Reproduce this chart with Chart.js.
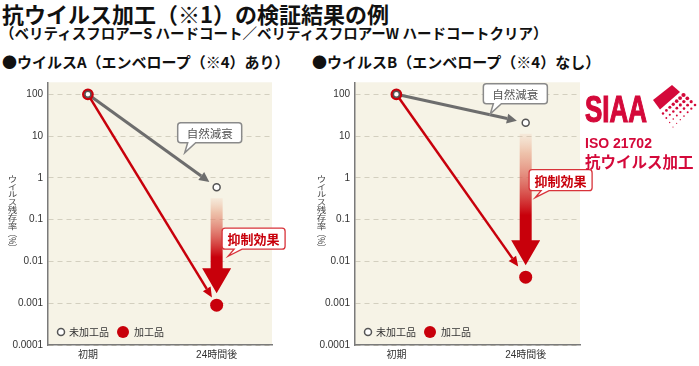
<!DOCTYPE html>
<html lang="ja">
<head>
<meta charset="utf-8">
<script src="https://cdn.jsdelivr.net/npm/chart.js@4.4.0/dist/chart.umd.min.js"></script>
<style>
  body { margin: 0; width: 699px; height: 366px; background: #fff; position: relative; overflow: hidden;
         font-family: "Noto Sans CJK JP", sans-serif; color: #111; }
  .abs { position: absolute; white-space: nowrap; line-height: 1; }
  .t1 { left: 2px; top: 2px; font-size: 22px; font-weight: 700; }
  .t2 { left: 0px; top: 26px; font-size: 14.5px; font-weight: 700; }
  .t3 { top: 54px; font-size: 15px; font-weight: 700; }
  .ytitle { writing-mode: vertical-rl; font-size: 9.5px; color: #444; top: 175px;
            transform: scaleY(0.82); transform-origin: top; }
  canvas { position: absolute; top: 75px; }
  .siaa { color: #d4093a; font-weight: 700; }
</style>
</head>
<body>
<div class="abs t1">抗ウイルス加工（※1）の検証結果の例</div>
<div class="abs t2">（ベリティスフロアーS ハードコート／ベリティスフロアーW ハードコートクリア）</div>
<div class="abs t3" style="left:2px">●ウイルスA（エンベロープ（※4）あり）</div>
<div class="abs t3" style="left:312px">●ウイルスB（エンベロープ（※4）なし）</div>

<canvas id="chartA" width="290" height="291" style="left:0px"></canvas>
<canvas id="chartB" width="300" height="291" style="left:307px"></canvas>
<div class="abs ytitle" style="left:7px">ウイルス残存率（%）</div>
<div class="abs ytitle" style="left:316px">ウイルス残存率（%）</div>

<div class="abs siaa" style="left:585px; top:92px; font-family:'Liberation Sans'; font-size:36px; transform:scaleX(0.72); transform-origin:left; -webkit-text-stroke:1.2px #d4093a;">SIAA</div>
<svg id="siaaMark" class="abs" style="left:648px; top:82px" width="50" height="50"></svg>
<div class="abs siaa" style="left:585px; top:136px; font-family:'Liberation Sans'; font-size:14px;">ISO 21702</div>
<div class="abs siaa" style="left:585px; top:154px; font-size:15.5px;">抗ウイルス加工</div>

<script>
// data
const categories = ['初期', '24時間後'];
const yTickValues = [0.0001, 0.001, 0.01, 0.1, 1, 10, 100];
const yTickLabels = ['0.0001', '0.001', '0.01', '0.1', '1', '10', '100'];
const seriesNames = ['未加工品', '加工品'];
const virusAUntreated = [100, 0.6];
const virusATreated = [100, 0.0009];
const virusBUntreated = [100, 21];
const virusBTreated = [100, 0.0042];
const noteDecay = '自然減衰';
const noteEffect = '抑制効果';

const FONT = '"Liberation Sans", "Noto Sans CJK JP", sans-serif';
const RED = '#c8000b';
const GRAY_LINE = '#6d6d6d';
const GRAY_MARK = '#555';
const BG = '#f6f3e6';
const GRID = '#d3cfbf';
const AXIS = '#7a7a7a';

function arrowLine(ctx, x1, y1, x2, y2, gap, color, width, headLen, headW) {
    const ang = Math.atan2(y2 - y1, x2 - x1);
    const tx = x2 - gap * Math.cos(ang), ty = y2 - gap * Math.sin(ang);
    const bx = tx - headLen * Math.cos(ang), by = ty - headLen * Math.sin(ang);
    ctx.strokeStyle = color;
    ctx.lineWidth = width;
    ctx.beginPath();
    ctx.moveTo(x1, y1);
    ctx.lineTo(bx, by);
    ctx.stroke();
    ctx.fillStyle = color;
    ctx.beginPath();
    ctx.moveTo(tx, ty);
    ctx.lineTo(bx + headW * Math.sin(ang), by - headW * Math.cos(ang));
    ctx.lineTo(bx - headW * Math.sin(ang), by + headW * Math.cos(ang));
    ctx.closePath();
    ctx.fill();
}

// rounded box with a small tail on the bottom-left
function callout(ctx, cx, cy, text, o) {
    ctx.font = o.font;
    const w = ctx.measureText(text).width + o.padX * 2;
    const h = o.h, r = 3;
    const l = cx - w / 2, t = cy - h / 2, rt = l + w, b = t + h;
    ctx.beginPath();
    ctx.moveTo(l + r, t);
    ctx.lineTo(rt - r, t);
    ctx.quadraticCurveTo(rt, t, rt, t + r);
    ctx.lineTo(rt, b - r);
    ctx.quadraticCurveTo(rt, b, rt - r, b);
    ctx.lineTo(l + o.tail[1], b);
    ctx.lineTo(l + o.tail[2], b + o.tail[3]);
    ctx.lineTo(l + o.tail[0], b);
    ctx.lineTo(l + r, b);
    ctx.quadraticCurveTo(l, b, l, b - r);
    ctx.lineTo(l, t + r);
    ctx.quadraticCurveTo(l, t, l + r, t);
    ctx.closePath();
    ctx.fillStyle = '#fff';
    ctx.fill();
    ctx.strokeStyle = o.border;
    ctx.lineWidth = o.borderWidth;
    ctx.stroke();
    ctx.fillStyle = o.color;
    ctx.textAlign = 'center';
    ctx.textBaseline = 'middle';
    ctx.fillText(text, cx, cy + 0.5);
}

function makeDecor(cfg) {
    return {
        id: 'decor',
        beforeDraw(chart) {
            const a = chart.chartArea, ctx = chart.ctx;
            ctx.save();
            ctx.fillStyle = BG;
            ctx.fillRect(a.left, a.top, a.right - a.left, a.bottom - a.top);
            ctx.restore();
        },
        beforeDatasetsDraw(chart) {
            const ctx = chart.ctx, xs = chart.scales.x, ys = chart.scales.y;
            const un = chart.data.datasets[0].data, tr = chart.data.datasets[1].data;
            ctx.save();
            // big gradient arrow (suppression effect)
            const ax = xs.getPixelForValue(un[1].x);
            const yTop = ys.getPixelForValue(un[1].y) + 11;
            const yTip = ys.getPixelForValue(tr[1].y) - 12;
            const headLen = 25, headW = 14.5, shaftW = 6;
            const g = ctx.createLinearGradient(0, yTop, 0, yTip);
            g.addColorStop(0, 'rgba(238,180,150,0.15)');
            g.addColorStop(0.15, 'rgba(232,160,130,0.6)');
            g.addColorStop(0.62, RED);
            g.addColorStop(1, RED);
            ctx.fillStyle = g;
            ctx.beginPath();
            ctx.moveTo(ax - shaftW, yTop);
            ctx.lineTo(ax + shaftW, yTop);
            ctx.lineTo(ax + shaftW, yTip - headLen);
            ctx.lineTo(ax + headW, yTip - headLen);
            ctx.lineTo(ax, yTip);
            ctx.lineTo(ax - headW, yTip - headLen);
            ctx.lineTo(ax - shaftW, yTip - headLen);
            ctx.closePath();
            ctx.fill();
            // series arrows
            arrowLine(ctx, xs.getPixelForValue(un[0].x), ys.getPixelForValue(un[0].y),
                xs.getPixelForValue(un[1].x), ys.getPixelForValue(un[1].y), 9, GRAY_LINE, 3, 10, 5);
            arrowLine(ctx, xs.getPixelForValue(tr[0].x), ys.getPixelForValue(tr[0].y),
                xs.getPixelForValue(tr[1].x), ys.getPixelForValue(tr[1].y), cfg.redGap, RED, 2.5, 10, 4.5);
            ctx.restore();
        },
        afterDraw(chart) {
            const ctx = chart.ctx, xs = chart.scales.x, ys = chart.scales.y, a = chart.chartArea;
            ctx.save();
            callout(ctx, xs.getPixelForValue(cfg.decayAt[0]), ys.getPixelForValue(cfg.decayAt[1]), noteDecay,
                { font: '11.5px "Noto Sans CJK JP"', padX: 9, h: 20, border: '#8a8a8a', borderWidth: 1.5, color: '#555', tail: [10, 18, 7, 10] });
            callout(ctx, xs.getPixelForValue(cfg.effectAt[0]), ys.getPixelForValue(cfg.effectAt[1]), noteEffect,
                { font: 'bold 13px "Noto Sans CJK JP"', padX: 5.5, h: 21, border: '#d8333a', borderWidth: 1.3, color: RED, tail: [12, 20, 6, 7] });
            // legend inside the plot
            const ly = a.bottom - 13;
            const ds = chart.data.datasets;
            ctx.font = '10px "Noto Sans CJK JP"';
            ctx.textBaseline = 'middle';
            ctx.textAlign = 'left';
            ctx.beginPath();
            ctx.arc(a.left + 13, ly, 3.5, 0, Math.PI * 2);
            ctx.fillStyle = '#fff';
            ctx.fill();
            ctx.lineWidth = 1.5;
            ctx.strokeStyle = GRAY_MARK;
            ctx.stroke();
            ctx.fillStyle = '#333';
            ctx.fillText(ds[0].label, a.left + 21, ly);
            ctx.beginPath();
            ctx.arc(a.left + 75, ly, 6, 0, Math.PI * 2);
            ctx.fillStyle = RED;
            ctx.fill();
            ctx.fillStyle = '#333';
            ctx.fillText(ds[1].label, a.left + 86, ly);
            ctx.restore();
        }
    };
}

function makeChart(id, untreated, treated, cfg) {
    const toPts = vals => vals.map((v, i) => ({ x: i, y: v }));
    return new Chart(document.getElementById(id), {
        type: 'scatter',
        data: {
            datasets: [{
                label: seriesNames[0],
                data: toPts(untreated),
                pointRadius: [3, 3.5],
                pointBorderWidth: 1.5,
                pointBorderColor: GRAY_MARK,
                pointBackgroundColor: '#fff',
                order: 0
            }, {
                label: seriesNames[1],
                data: toPts(treated),
                pointRadius: [4.5, 6.5],
                pointBorderWidth: [2.8, 0],
                pointBorderColor: RED,
                pointBackgroundColor: ['#fff', RED],
                order: 1
            }]
        },
        options: {
            responsive: false,
            animation: false,
            devicePixelRatio: 1,
            events: [],
            layout: { padding: { top: 7, right: cfg.padRight, left: 0, bottom: 0 } },
            plugins: { legend: { display: false }, tooltip: { enabled: false } },
            scales: {
                x: {
                    type: 'linear', min: cfg.xMin, max: cfg.xMax,
                    afterBuildTicks: s => { s.ticks = categories.map((c, i) => ({ value: i })); },
                    afterFit: s => { s.height = 21; s.paddingLeft = 0; s.paddingRight = 0; },
                    ticks: { callback: v => categories[v], color: '#333', font: { size: 10, family: FONT }, padding: 4, maxRotation: 0, autoSkip: false },
                    grid: { display: false, drawTicks: false },
                    border: { display: true, color: AXIS, width: 1.5 }
                },
                y: {
                    type: 'logarithmic', min: 0.0001, max: 194,
                    afterBuildTicks: s => { s.ticks = yTickValues.map(v => ({ value: v })); },
                    afterFit: s => { s.width = 48; s.paddingTop = 0; s.paddingBottom = 0; },
                    ticks: { callback: v => yTickLabels[yTickValues.indexOf(v)], color: '#333', font: { size: 10, family: FONT }, padding: 5, autoSkip: false },
                    grid: { color: GRID, lineWidth: 1, drawTicks: false },
                    border: { display: true, color: AXIS, width: 1.5, dash: [5, 4] }
                }
            }
        },
        plugins: [makeDecor(cfg)]
    });
}

makeChart('chartA', virusAUntreated, virusATreated, {
    padRight: 18, xMin: -0.31, xMax: 1.43, redGap: 9,
    decayAt: [0.946, 12], effectAt: [1.287, 0.035]
});
makeChart('chartB', virusBUntreated, virusBTreated, {
    padRight: 27, xMin: -0.32, xMax: 1.42, redGap: 13,
    decayAt: [0.92, 103], effectAt: [1.27, 0.88]
});

// SIAA mark: solid corner plus fading dots inside a diamond
function buildMark() {
    const svg = document.getElementById('siaaMark');
    const ns = 'http://www.w3.org/2000/svg';
    const T = [24, 3], R = [47, 23], B = [25, 45], L = [5, 18];
    const lerp = (p, q, k) => [p[0] + (q[0] - p[0]) * k, p[1] + (q[1] - p[1]) * k];
    const m1 = lerp(T, R, 0.35), m2 = lerp(L, B, 0.35);
    const poly = document.createElementNS(ns, 'polygon');
    poly.setAttribute('points', [L, T, m1, m2].map(p => p.join(',')).join(' '));
    poly.setAttribute('fill', '#d4093a');
    svg.appendChild(poly);
    for (let i = 0; i <= 6; i++) {
        for (let j = 0; j <= 6; j++) {
            const u = i / 6, v = j / 6;
            if (u < 0.38) continue;
            const a = lerp(T, R, u), b = lerp(L, B, u);
            const p = lerp(a, b, v);
            const c = document.createElementNS(ns, 'circle');
            c.setAttribute('cx', p[0]);
            c.setAttribute('cy', p[1]);
            c.setAttribute('r', Math.max(0.6, 2.3 - (u - 0.38) * 1.6 - v * 0.9));
            c.setAttribute('fill', '#d4093a');
            svg.appendChild(c);
        }
    }
}
buildMark();
</script>
</body>
</html>
